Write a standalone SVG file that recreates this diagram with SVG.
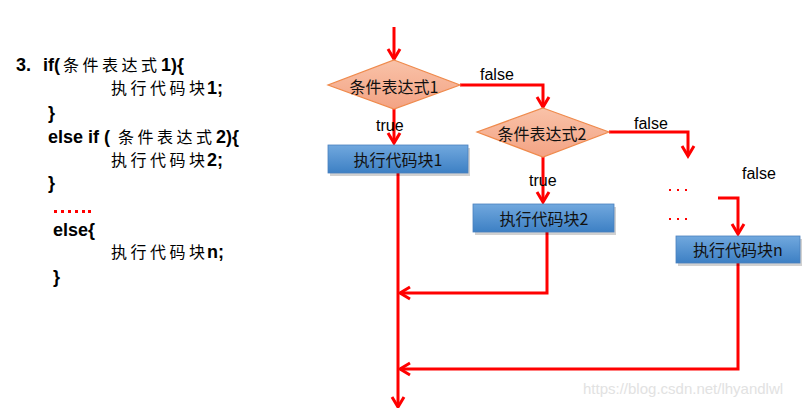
<svg xmlns="http://www.w3.org/2000/svg" width="803" height="408" viewBox="0 0 803 408">
<style>
.code{font-family:"Liberation Sans","Noto Sans CJK SC",sans-serif;font-weight:bold;font-size:18px;fill:#000}
.cjk{font-family:"Noto Sans CJK SC",sans-serif;font-weight:normal;font-size:16px;letter-spacing:3.5px}
.lbl{font-family:"Liberation Sans","Noto Sans CJK SC",sans-serif;font-size:16px;fill:#000}
.ntxt{font-family:"Noto Sans CJK SC","Liberation Sans",sans-serif;font-size:16px;fill:#111;text-anchor:middle;dominant-baseline:central}
.dia{fill:url(#gd);stroke:#ef8a4c;stroke-width:1.2}
.box{fill:url(#gb);stroke:#4a80bf;stroke-width:0.8}
.shadow{fill:#000;opacity:0.18}
.con{fill:none;stroke:#ff0000;stroke-width:3}
.arr{marker-end:url(#ah)}
.dots{fill:#ff0000}
</style>
<defs>
<linearGradient id="gd" x1="0" y1="0" x2="0" y2="1">
<stop offset="0" stop-color="#f9c2a8"/>
<stop offset="1" stop-color="#f3a384"/>
</linearGradient>
<linearGradient id="gb" x1="0" y1="0" x2="0" y2="1">
<stop offset="0" stop-color="#71a8de"/>
<stop offset="1" stop-color="#3d80c4"/>
</linearGradient>
<marker id="ah" markerUnits="userSpaceOnUse" markerWidth="20" markerHeight="20" viewBox="-12 -10 14 20" refX="0" refY="0" orient="auto">
<path d="M-10,-6 L0,0 L-10,6" fill="none" stroke="#ff0000" stroke-width="3"/>
</marker>
</defs>

<g id="code">
<text class="code" x="16" y="71">3.</text>
<text class="code" x="43" y="71">if(</text>
<text class="code cjk" x="63" y="71">条件表达式</text>
<text class="code" x="161" y="71">1){</text>
<text class="code cjk" x="111" y="94">执行代码块</text>
<text class="code" x="207" y="94">1;</text>
<text class="code" x="48" y="119">}</text>
<text class="code" x="48" y="143">else if (</text>
<text class="code cjk" x="118" y="143">条件表达式</text>
<text class="code" x="216" y="143">2){</text>
<text class="code cjk" x="111" y="166">执行代码块</text>
<text class="code" x="207" y="166">2;</text>
<text class="code" x="48" y="189">}</text>
<text class="code" x="53" y="236">else{</text>
<text class="code cjk" x="111" y="258">执行代码块</text>
<text class="code" x="207" y="258">n;</text>
<text class="code" x="53" y="283">}</text>
<g class="dots">
<rect x="54" y="210" width="3" height="3"/>
<rect x="61" y="210" width="3" height="3"/>
<rect x="68" y="210" width="3" height="3"/>
<rect x="75" y="210" width="3" height="3"/>
<rect x="82" y="210" width="3" height="3"/>
<rect x="88" y="210" width="3" height="3"/>
</g>
</g>

<g id="connectors">
<path class="con arr" d="M394,27 V59"/>
<path class="con arr" d="M460,85 H543 V107"/>
<path class="con arr" d="M394,109 V143"/>
<path class="con" d="M398,173 V380"/>
<path class="con arr" d="M398,380 V407"/>
<path class="con arr" d="M609,132 H688 V156"/>
<path class="con arr" d="M543,157 V202"/>
<path class="con arr" d="M547,232 V293 H400"/>
<path class="con arr" d="M718,198 H738 V234"/>
<path class="con arr" d="M738,263 V369 H400"/>
</g>

<g id="labels">
<text class="lbl" x="480" y="80">false</text>
<text class="lbl" x="376" y="131">true</text>
<text class="lbl" x="634" y="129">false</text>
<text class="lbl" x="529" y="186">true</text>
<text class="lbl" x="742" y="179">false</text>
<g class="dots">
<rect x="669" y="189" width="2" height="2"/><rect x="677" y="189" width="2" height="2"/><rect x="685" y="189" width="2" height="2"/>
<rect x="669" y="218" width="2" height="2"/><rect x="677" y="218" width="2" height="2"/><rect x="685" y="218" width="2" height="2"/>
</g>
</g>

<g id="cond1">
<polygon class="dia" points="394,60 460,85 394,109 328,85"/>
<text class="ntxt" x="394" y="86">条件表达式1</text>
</g>
<g id="block1">
<rect class="shadow" x="330" y="148" width="140" height="28"/>
<rect class="box" x="328" y="145" width="140" height="28"/>
<text class="ntxt" x="398" y="159">执行代码块1</text>
</g>
<g id="cond2">
<polygon class="dia" points="543,108 609,132 543,157 477,132"/>
<text class="ntxt" x="542" y="133">条件表达式2</text>
</g>
<g id="block2">
<rect class="shadow" x="475" y="207" width="141" height="28"/>
<rect class="box" x="473" y="204" width="141" height="28"/>
<text class="ntxt" x="544" y="218">执行代码块2</text>
</g>
<g id="blockn">
<rect class="shadow" x="678" y="239" width="124" height="27"/>
<rect class="box" x="676" y="236" width="124" height="27"/>
<text class="ntxt" x="738" y="249">执行代码块n</text>
</g>

<text x="583" y="394" style="font-family:'Liberation Sans',sans-serif;font-size:15px;fill:#e2e2e2">https://blog.csdn.net/lhyandlwl</text>
</svg>
